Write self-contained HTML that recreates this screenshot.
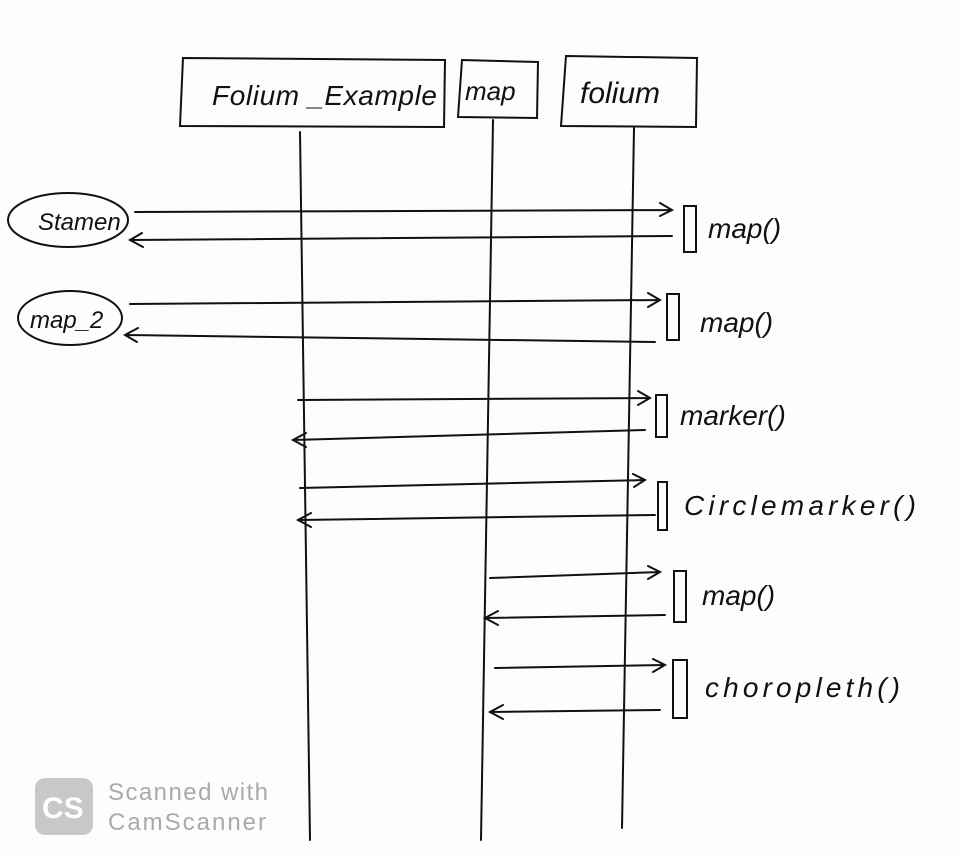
<!DOCTYPE html>
<html><head><meta charset="utf-8"><style>
html,body{margin:0;padding:0;background:#fff;}
svg{display:block;}
text{font-family:"Liberation Sans",sans-serif;fill:#111;}
</style></head><body>
<svg width="960" height="859" viewBox="0 0 960 859" xmlns="http://www.w3.org/2000/svg">
<rect width="960" height="859" fill="#fdfdfd"/>
<g stroke="#111" stroke-width="2" fill="none" stroke-linecap="round">
<path d="M183 58 L445 60 L444 127 L180 126 Z"/>
<path d="M462 60 L538 62 L537 118 L458 117 Z"/>
<path d="M566 56 L697 58 L696 127 L561 126 Z"/>
<path d="M300 132 L310 840"/>
<path d="M493 120 L481 840"/>
<path d="M634 128 L622 828"/>
<ellipse cx="68" cy="220" rx="60" ry="27"/>
<ellipse cx="70" cy="318" rx="52" ry="27"/>
<rect x="684" y="206" width="12" height="46"/>
<rect x="667" y="294" width="12" height="46"/>
<rect x="656" y="395" width="11" height="42"/>
<rect x="658" y="482" width="9" height="48"/>
<rect x="674" y="571" width="12" height="51"/>
<rect x="673" y="660" width="14" height="58"/>
<path d="M135 212 L672 210 M660 203 L672 210 L660 216"/>
<path d="M672 236 L130 240 M142 233 L130 240 L143 247"/>
<path d="M130 304 L660 300 M648 293 L660 300 L648 307"/>
<path d="M655 342 L125 335 M138 328 L125 335 L137 342"/>
<path d="M298 400 L650 398 M638 391 L650 398 L638 405"/>
<path d="M645 430 L293 440 M306 433 L293 440 L306 447"/>
<path d="M300 488 L645 480 M633 474 L645 480 L634 487"/>
<path d="M655 515 L298 520 M311 513 L298 520 L311 527"/>
<path d="M490 578 L660 572 M648 566 L660 572 L648 579"/>
<path d="M665 615 L485 618 M498 611 L485 618 L498 625"/>
<path d="M495 668 L665 665 M653 659 L665 665 L653 672"/>
<path d="M660 710 L490 712 M503 705 L490 712 L503 719"/>
</g>
<g font-size="28" font-style="italic">
<text x="212" y="105" textLength="225">Folium _Example</text>
<text x="465" y="100" font-size="26">map</text>
<text x="580" y="103" font-size="30">folium</text>
<text x="38" y="230" font-size="24">Stamen</text>
<text x="30" y="328" font-size="24">map_2</text>
<text x="708" y="238">map()</text>
<text x="700" y="332">map()</text>
<text x="680" y="425">marker()</text>
<text x="684" y="515" textLength="232">Circlemarker()</text>
<text x="702" y="605">map()</text>
<text x="705" y="697" textLength="195">choropleth()</text>
</g>
<g>
<rect x="35" y="778" width="58" height="57" rx="10" fill="#c8c8c8"/>
<text x="42" y="818" font-size="30" font-weight="bold" style="fill:#fff">CS</text>
<text x="108" y="800" font-size="24" textLength="160" style="fill:#aaa">Scanned with</text>
<text x="108" y="830" font-size="24" textLength="158" style="fill:#aaa">CamScanner</text>
</g>
</svg>
</body></html>
